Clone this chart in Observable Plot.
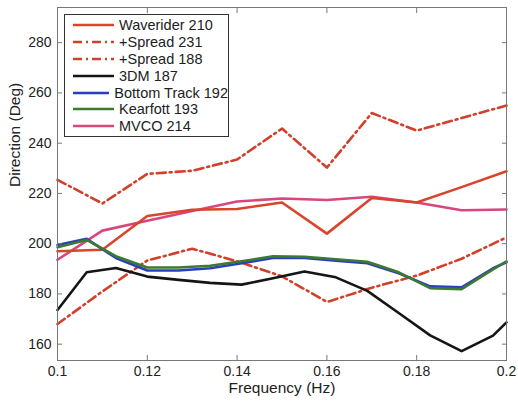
<!DOCTYPE html>
<html>
<head>
<meta charset="utf-8">
<script src="https://cdn.jsdelivr.net/npm/d3@7"></script>
<script src="https://cdn.jsdelivr.net/npm/@observablehq/plot@0.6"></script>
<style>
  html, body { margin: 0; padding: 0; background: #fff; }
  #wrap { position: relative; width: 518px; height: 403px; font-family: "Liberation Sans", Arial, sans-serif; }
  #legend { position: absolute; left: 64px; top: 14px; width: 165px; height: 123px; border: 1px solid #333; background: #fff; box-sizing: border-box; padding-top: 1.5px; }
  .row { display: flex; align-items: center; height: 16.9px; }
  .row svg { margin-left: 8px; margin-right: 5px; }
  .row span { font-size: 14.5px; color: #222; white-space: nowrap; }
</style>
</head>
<body>
<div id="wrap"><div id="chart"></div><div id="legend"></div></div>
<script>
// Frequencies (Hz)
const freqA = [0.10, 0.11, 0.12, 0.13, 0.14, 0.15, 0.16, 0.17, 0.18, 0.19, 0.20];
const waverider = [197, 197.6, 211, 213.5, 213.8, 216.4, 204, 218.2, 216.4, 222.5, 228.8];
const spread231 = [225.4, 216, 227.8, 229, 233.5, 245.8, 230.3, 252, 245, 250, 255];
const spread188 = [168, 181, 193.3, 198, 193, 187, 176.8, 182.5, 187.3, 194, 202.5];
const mvco = [193.6, 205.2, 209.1, 213, 216.8, 218, 217.4, 218.7, 216.4, 213.3, 213.6];

const freqB = [0.1, 0.1065, 0.113, 0.12, 0.127, 0.134, 0.141, 0.148, 0.155, 0.162, 0.169, 0.176, 0.183, 0.19, 0.197, 0.2];
const dm3 = [173.6, 188.6, 190.3, 186.9, 185.6, 184.4, 183.7, 186.2, 188.9, 186.6, 181.2, 172.4, 163.5, 157.2, 163.4, 168.7];
const bottomTrack = [199.5, 201.9, 194.3, 189.3, 189.3, 190.2, 192.2, 194.3, 194.3, 193.2, 192.2, 188.2, 183, 182.6, 190.2, 192.6];
const kearfott = [198.6, 201.5, 195, 190.5, 190.5, 191.2, 193, 195, 194.8, 193.8, 192.8, 188.6, 182.3, 181.9, 189.8, 193];

const xTicks = [0.1, 0.12, 0.14, 0.16, 0.18, 0.2];
const yTicks = [160, 180, 200, 220, 240, 260, 280];
const xLabel = "Frequency (Hz)";
const yLabel = "Direction (Deg)";

const series = [
  {name: "Waverider 210", f: freqA, v: waverider, color: "#d9452b", dash: null},
  {name: "+Spread 231", f: freqA, v: spread231, color: "#d0402a", dash: "9,4,2,4"},
  {name: "+Spread 188", f: freqA, v: spread188, color: "#d0402a", dash: "9,4,2,4"},
  {name: "3DM 187", f: freqB, v: dm3, color: "#151515", dash: null},
  {name: "Bottom Track 192", f: freqB, v: bottomTrack, color: "#2a3fc0", dash: null},
  {name: "Kearfott 193", f: freqB, v: kearfott, color: "#3b7a30", dash: null},
  {name: "MVCO 214", f: freqA, v: mvco, color: "#d8457f", dash: null}
];
const drawOrder = [1, 2, 6, 0, 3, 4, 5];

const rows = s => s.f.map((f, i) => ({f, v: s.v[i]}));

const marks = [];
for (const k of drawOrder) {
  const s = series[k];
  marks.push(Plot.line(rows(s), {x: "f", y: "v", stroke: s.color, strokeWidth: 2.6, strokeDasharray: s.dash, strokeLinejoin: "round"}));
}

const chart = Plot.plot({
  width: 518,
  height: 403,
  marginLeft: 57,
  marginRight: 12,
  marginTop: 7,
  marginBottom: 43,
  style: {fontFamily: "Liberation Sans, Arial, sans-serif", fontSize: "14px", color: "#222", background: "#fff"},
  x: {domain: [0.1, 0.2]},
  y: {domain: [153.5, 294]},
  marks: [
    ...marks,
    Plot.frame({stroke: "#777", strokeWidth: 1}),
    Plot.axisX(xTicks, {anchor: "bottom", tickSize: -5, tickPadding: 11, tickFormat: d => String(d), stroke: "#777", fill: "#222", label: null, fontSize: 14}),
    Plot.axisX(xTicks, {anchor: "top", tickSize: -5, text: null, label: null, stroke: "#777"}),
    Plot.axisY(yTicks, {anchor: "left", tickSize: -5, tickPadding: 11, stroke: "#777", fill: "#222", label: null, fontSize: 14}),
    Plot.axisY(yTicks, {anchor: "right", tickSize: -5, text: null, label: null, stroke: "#777"}),
    Plot.text([xLabel], {text: d => d, frameAnchor: "bottom", lineAnchor: "bottom", dy: 32, fontSize: 15.5, fill: "#222"}),
    Plot.text([yLabel], {text: d => d, frameAnchor: "left", rotate: -90, lineAnchor: "middle", dx: -42, dy: 3, fontSize: 15.5, fill: "#222"})
  ]
});
document.getElementById("chart").appendChild(chart);

const legend = document.getElementById("legend");
for (const s of series) {
  const row = document.createElement("div");
  row.className = "row";
  row.innerHTML = `<svg width="41" height="8"><line x1="0" y1="4" x2="41" y2="4" stroke="${s.color}" stroke-width="2.6" ${s.dash ? `stroke-dasharray="${s.dash}"` : ""}/></svg><span>${s.name}</span>`;
  legend.appendChild(row);
}
</script>
</body>
</html>
